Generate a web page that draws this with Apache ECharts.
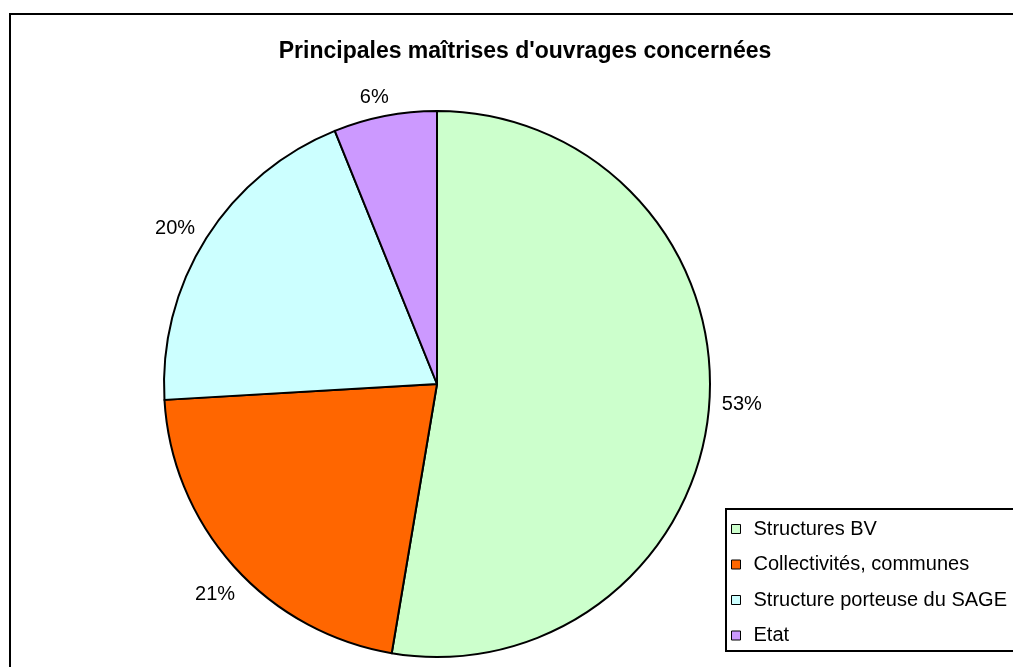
<!DOCTYPE html>
<html>
<head>
<meta charset="utf-8">
<script src="https://cdn.jsdelivr.net/npm/echarts@6/dist/echarts.min.js"></script>
<style>
html,body{margin:0;padding:0;background:#fff;}
#chart{width:1013px;height:667px;}
</style>
</head>
<body>
<div id="chart"></div>
<script>
const titleText = "Principales maîtrises d'ouvrages concernées";
const categories = ['Structures BV', 'Collectivités, communes', 'Structure porteuse du SAGE', 'Etat'];
const values = [52.6, 21.4, 19.8, 6.1];
const colors = ['#CCFFCC', '#FF6600', '#CCFFFF', '#CC99FF'];

const FONT = "'Liberation Sans', Arial, sans-serif";
const chart = echarts.init(document.getElementById('chart'), null, {renderer: 'canvas'});

const option = {
  backgroundColor: '#ffffff',
  animation: false,
  title: {
    text: titleText,
    left: 520,
    top: 35,
    textAlign: 'center',
    textStyle: {fontFamily: FONT, fontSize: 23, fontWeight: 'bold', color: '#000'}
  },
  graphic: [
    {type: 'rect', z: 0, silent: true,
     shape: {x: 10, y: 14, width: 1100, height: 800},
     style: {fill: 'none', stroke: '#000', lineWidth: 2}},
    {type: 'rect', z: 0, silent: true,
     shape: {x: 726, y: 509, width: 400, height: 142},
     style: {fill: 'none', stroke: '#000', lineWidth: 2}}
  ],
  legend: {
    orient: 'vertical',
    left: 731,
    top: 519,
    padding: 0,
    itemGap: 15.5,
    itemWidth: 9,
    itemHeight: 9,
    icon: 'rect',
    itemStyle: {borderColor: '#000', borderWidth: 1},
    textStyle: {fontFamily: FONT, fontSize: 20, color: '#000', lineHeight: 20, padding: [0, 0, 0, 8]},
    data: categories
  },
  series: [{
    type: 'pie',
    center: [437, 384],
    radius: 273,
    startAngle: 90,
    clockwise: true,
    percentPrecision: 0,
    avoidLabelOverlap: false,
    itemStyle: {borderColor: '#000', borderWidth: 2},
    emphasis: {disabled: true},
    label: {
      show: true,
      position: 'outside',
      formatter: '{d}%',
      fontFamily: FONT,
      fontSize: 20,
      color: '#000'
    },
    labelLine: {show: true, length: 2, length2: 0, lineStyle: {width: 0, opacity: 0}},
    labelLayout: function (params) {
      const pts = params.labelLinePoints;
      const r = params.labelRect;
      if (!pts || pts.length < 2) return {};
      let ux = pts[1][0] - pts[0][0], uy = pts[1][1] - pts[0][1];
      const len = Math.sqrt(ux * ux + uy * uy) || 1;
      ux /= len; uy /= len;
      // origin of the radial direction (pie centre) recovered from the arc point
      const ox = pts[0][0] - ux * 273, oy = pts[0][1] - uy * 273;
      // slight counter-clockwise offset, like the original spreadsheet placement
      const a = -1.3 * Math.PI / 180;
      const vx = ux * Math.cos(a) - uy * Math.sin(a);
      const vy = ux * Math.sin(a) + uy * Math.cos(a);
      const support = Math.abs(vx) * r.width / 2 + Math.abs(vy) * 7;
      const d = 273 + 12 + support;
      return {
        x: ox + vx * d,
        y: oy + vy * d + 2,
        align: 'center',
        verticalAlign: 'middle'
      };
    },
    data: categories.map((c, i) => ({name: c, value: values[i], itemStyle: {color: colors[i]}}))
  }]
};
chart.setOption(option);
</script>
</body>
</html>
